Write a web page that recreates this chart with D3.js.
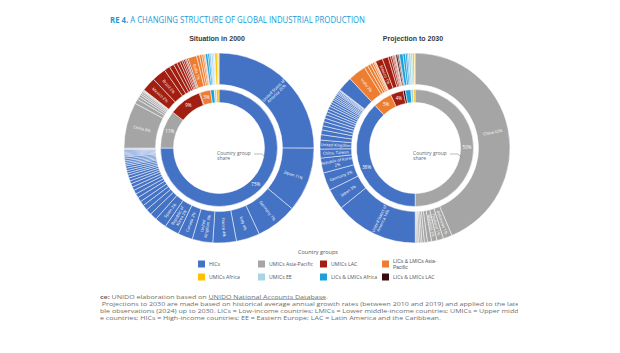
<!DOCTYPE html>
<html>
<head>
<meta charset="utf-8">
<script src="https://cdn.jsdelivr.net/npm/d3@7"></script>
<style>
  body { margin: 0; background: #fff; }
  svg { display: block; font-family: "Open Sans", sans-serif; }
</style>
</head>
<body>
<svg id="chart" width="620" height="353"></svg>
<script>
// Country groups, legend order
const groups = ["HICs", "UMICs Asia-Pacific", "UMICs LAC", "LICs & LMICs Asia-Pacific",
                "UMICs Africa", "UMICs EE", "LICs & LMICs Africa", "LICs & LMICs LAC"];
const groupColors = ["#4472c4", "#a5a5a5", "#a11e10", "#ed7d31",
                     "#ffc000", "#a8d5e4", "#1c9fda", "#3b0a0f"];

// Outer ring, clockwise from 12 o'clock: [group index, share %, label]
const slices2000 = [
  [0, 25, "United States of\nAmerica 25%"], [0, 11, "Japan 11%"], [0, 7, "Germany 7%"],
  [0, 4, "Italy 4%"], [0, 4, "France 4%"], [0, 3.5, "United\nKingdom 3%"], [0, 2.5, "Canada 2%"],
  [0, 2.5, "Republic of\nKorea 2%"], [0, 2, "Spain 2%"],
  [0, 1.2, ""], [0, 1.0, ""], [0, 0.9, ""], [0, 0.8, ""], [0, 0.8, ""], [0, 0.7, ""], [0, 0.7, ""],
  [0, 0.6, ""], [0, 0.6, ""], [0, 0.5, ""], [0, 0.5, ""], [0, 0.5, ""], [0, 0.4, ""], [0, 0.4, ""],
  [0, 0.4, ""], [0, 0.4, ""], [0, 0.3, ""], [0, 0.3, ""], [0, 0.3, ""], [0, 0.3, ""], [0, 0.3, ""],
  [0, 0.2, ""], [0, 0.2, ""], [0, 0.2, ""], [0, 0.2, ""], [0, 0.2, ""], [0, 0.2, ""],
  [0, 0.1, ""], [0, 0.1, ""], [0, 0.1, ""],
  [1, 7.8, "China 8%"], [1, 0.8, ""], [1, 0.5, ""], [1, 0.4, ""], [1, 0.3, ""], [1, 0.3, ""],
  [1, 0.2, ""], [1, 0.1, ""], [1, 0.1, ""],
  [2, 2.4, "Mexico 2%"], [2, 2.4, "Brazil 2%"], [2, 1.0, ""], [2, 0.8, ""], [2, 0.6, ""],
  [2, 0.5, ""], [2, 0.4, ""], [2, 0.3, ""], [2, 0.3, ""], [2, 0.2, ""], [2, 0.1, ""],
  [7, 0.2, ""],
  [3, 1.5, "India 1%"], [3, 0.5, ""], [3, 0.4, ""], [3, 0.3, ""], [3, 0.2, ""], [3, 0.1, ""],
  [6, 0.4, ""], [6, 0.3, ""], [6, 0.2, ""], [6, 0.1, ""],
  [5, 0.3, ""], [5, 0.2, ""], [5, 0.1, ""],
  [4, 0.4, ""], [4, 0.2, ""], [4, 0.1, ""]
];

const slices2030 = [
  [1, 43, "China 43%"], [1, 1.5, "Indonesia 1%"], [1, 1.1, "Thailand 1%"], [1, 0.9, "Malaysia 1%"],
  [1, 0.7, ""], [1, 0.5, ""], [1, 0.4, ""], [1, 0.3, ""], [1, 0.3, ""], [1, 0.2, ""], [1, 0.2, ""],
  [1, 0.1, ""],
  [0, 14, "United States of\nAmerica 14%"], [0, 3.5, "Japan 3%"], [0, 3, "Germany 3%"],
  [0, 2.5, "Republic of Korea\n2%"], [0, 1.5, "China, Taiwan"], [0, 1.5, "United Kingdom"],
  [0, 0.9, ""], [0, 0.8, ""], [0, 0.7, ""], [0, 0.7, ""], [0, 0.6, ""], [0, 0.6, ""], [0, 0.5, ""],
  [0, 0.5, ""], [0, 0.5, ""], [0, 0.4, ""], [0, 0.4, ""], [0, 0.4, ""], [0, 0.3, ""], [0, 0.3, ""],
  [0, 0.3, ""], [0, 0.3, ""], [0, 0.2, ""], [0, 0.2, ""], [0, 0.2, ""], [0, 0.1, ""], [0, 0.1, ""],
  [0, 2.5, ""],
  [3, 3.0, "India 3%"], [3, 0.6, ""], [3, 0.5, ""], [3, 0.4, ""], [3, 0.3, ""], [3, 0.2, ""],
  [3, 0.1, ""],
  [2, 1.2, "Mexico 1%"], [2, 1.0, ""], [2, 0.4, ""], [2, 0.3, ""], [2, 0.2, ""], [2, 0.2, ""],
  [2, 0.1, ""], [2, 0.1, ""],
  [7, 0.3, ""], [7, 0.2, ""], [7, 0.1, ""],
  [6, 0.6, ""], [6, 0.4, ""], [6, 0.3, ""], [6, 0.2, ""],
  [5, 0.4, ""], [5, 0.3, ""],
  [4, 0.3, ""], [4, 0.1, ""]
];

const footLines = [
  // [hidden prefix, visible rest]
  ["Sour", "ce: UNIDO elaboration based on UNIDO National Accounts Database."],
  ["Note:", " Projections to 2030 are made based on historical average annual growth rates (between 2010 and 2019) and applied to the latest avail-"],
  ["a", "ble observations (2024) up to 2030. LICs = Low-income countries; LMICs = Lower middle-income countries; UMICs = Upper middle-"],
  ["incom", "e countries; HICs = High-income countries; EE = Eastern Europe; LAC = Latin America and the Caribbean."]
];

const svg = d3.select("#chart");
const rIn = [45.5, 58.5], rOut = [63.5, 95];

// Title
const title = svg.append("text")
  .attr("x", 110).attr("y", 23)
  .attr("font-size", 8.5).attr("fill", "#1a9bd6")
  .attr("textLength", 255).attr("lengthAdjust", "spacingAndGlyphs");
title.append("tspan").attr("font-weight", "bold").text("RE 4.");
title.append("tspan").text(" A CHANGING STRUCTURE OF GLOBAL INDUSTRIAL PRODUCTION");

function drawDonut(cx, cy, slices, heading) {
  const g = svg.append("g").attr("transform", `translate(${cx},${cy})`);
  const total = d3.sum(slices, d => d[1]);

  svg.append("text")
    .attr("x", cx - 2).attr("y", 41)
    .attr("text-anchor", "middle")
    .attr("font-family", "Liberation Sans, Arial, sans-serif")
    .attr("font-weight", "bold").attr("font-size", 7).attr("fill", "#3a3a3a")
    .text(heading);

  // outer ring: countries
  const pie = d3.pie().sort(null).value(d => d[1]);
  const outerArc = d3.arc().innerRadius(rOut[0]).outerRadius(rOut[1]);
  const outer = pie(slices);
  g.selectAll("path.outer")
    .data(outer)
    .enter().append("path")
    .attr("class", "outer")
    .attr("d", outerArc)
    .attr("fill", d => groupColors[d.data[0]])
    .attr("stroke", "#fff")
    .attr("stroke-width", 0.5);

  // country labels, radial
  const rMid = (rOut[0] + rOut[1]) / 2;
  outer.filter(d => d.data[2]).forEach(d => {
    const a = (d.startAngle + d.endAngle) / 2;
    const deg = a * 180 / Math.PI;
    const x = Math.sin(a) * rMid, y = -Math.cos(a) * rMid;
    const rot = deg < 180 ? deg - 90 : deg - 270;
    const lines = d.data[2].split("\n");
    const t = g.append("text")
      .attr("transform", `translate(${x},${y}) rotate(${rot})`)
      .attr("text-anchor", "middle")
      .attr("font-size", 4).attr("fill", "#fff");
    lines.forEach((ln, i) => {
      t.append("tspan")
        .attr("x", 0)
        .attr("y", (i - (lines.length - 1) / 2) * 4.4 + 1.4)
        .text(ln);
    });
  });

  // inner ring: country group shares
  const groupTotals = d3.rollups(slices, v => d3.sum(v, d => d[1]), d => d[0]);
  const innerPie = d3.pie().sort(null).value(d => d[1]);
  const innerArc = d3.arc().innerRadius(rIn[0]).outerRadius(rIn[1]);
  const inner = innerPie(groupTotals);
  g.selectAll("path.inner")
    .data(inner)
    .enter().append("path")
    .attr("class", "inner")
    .attr("d", innerArc)
    .attr("fill", d => groupColors[d.data[0]])
    .attr("stroke", "#fff")
    .attr("stroke-width", 0.5);

  g.selectAll("text.inner")
    .data(inner.filter(d => d.data[1] / total >= 0.03))
    .enter().append("text")
    .attr("class", "inner")
    .attr("transform", d => `translate(${innerArc.centroid(d)})`)
    .attr("text-anchor", "middle")
    .attr("dy", 1.5)
    .attr("font-size", 4.5).attr("fill", "#fff")
    .text(d => Math.round(d.data[1] / total * 100) + "%");

  // annotation
  const note = g.append("text")
    .attr("x", -2).attr("y", 6.5)
    .attr("font-size", 5).attr("fill", "#666");
  note.append("tspan").attr("x", -2).text("Country group");
  note.append("tspan").attr("x", -2).attr("dy", 5.5).text("share");
  g.append("path")
    .attr("d", "M35,6 L43,6 L47,9.5")
    .attr("fill", "none")
    .attr("stroke", "#777")
    .attr("stroke-width", 0.5);
}

drawDonut(219, 148, slices2000, "Situation in 2000");
drawDonut(415, 148, slices2030, "Projection to 2030");

// Legend
svg.append("text")
  .attr("x", 318).attr("y", 254)
  .attr("text-anchor", "middle")
  .attr("font-size", 5.5).attr("fill", "#555")
  .text("Country groups");

const colX = [198, 258, 320, 382];
const rowY = [260.5, 273.5];
groups.forEach((name, i) => {
  const x = colX[i % 4], y = rowY[Math.floor(i / 4)];
  svg.append("rect")
    .attr("x", x).attr("y", y)
    .attr("width", 7).attr("height", 7)
    .attr("fill", groupColors[i]);
  if (name === "LICs & LMICs Asia-Pacific") {
    // two short lines, drawn a little tighter
    svg.append("text").attr("x", x + 11).attr("y", y + 2.4)
      .attr("font-family", "Liberation Sans, Arial, sans-serif")
      .attr("font-size", 5).attr("fill", "#555").text("LICs & LMICs Asia-");
    svg.append("text").attr("x", x + 11).attr("y", y + 8.6)
      .attr("font-family", "Liberation Sans, Arial, sans-serif")
      .attr("font-size", 5).attr("fill", "#555").text("Pacific");
  } else {
    svg.append("text").attr("x", x + 11).attr("y", y + 5.5)
      .attr("font-size", 5.2).attr("fill", "#555").text(name);
  }
});

// Footer (cropped at the left and right like the source page)
svg.append("clipPath").attr("id", "foot-clip")
  .append("rect").attr("x", 100).attr("y", 285).attr("width", 418).attr("height", 40);
const foot = svg.append("g").attr("clip-path", "url(#foot-clip)")
  .attr("fill", "#6e6e6e");

// narrow the text horizontally so the second line fits the visible width
const fs = 5.4;
const probe = foot.append("text").attr("font-size", fs)
  .text("Projections to 2030 are made based on historical average annual growth rates (between 2010 and 2019) and applied to the lat");
const k = 414 / probe.node().getComputedTextLength();
probe.remove();

const footY = [298.5, 305.6, 312.8, 320];
footLines.forEach((ln, i) => {
  const pre = foot.append("text").attr("font-size", fs)
    .attr("font-weight", i === 0 ? "bold" : null).text(ln[0]);
  const w = pre.node().getComputedTextLength() * k;
  pre.remove();
  const t = foot.append("text")
    .attr("transform", `translate(${100 - w},${footY[i]}) scale(${k},1)`)
    .attr("font-size", fs);
  if (i === 0) {
    t.append("tspan").attr("font-weight", "bold").text("Source:");
    t.append("tspan").text(" UNIDO elaboration based on ");
    t.append("tspan").attr("text-decoration", "underline").text("UNIDO National Accounts Database");
    t.append("tspan").text(".");
  } else {
    t.text(ln[0] + ln[1]);
  }
});
</script>
</body>
</html>
